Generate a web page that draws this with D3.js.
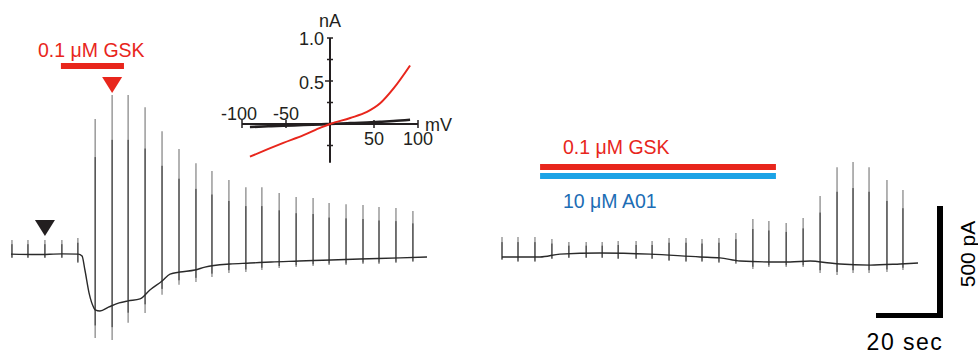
<!DOCTYPE html>
<html>
<head>
<meta charset="utf-8">
<script src="https://cdn.jsdelivr.net/npm/d3@7"></script>
<style>
  body { margin: 0; background: #fff; }
  svg text { font-family: Arial, "Liberation Sans", sans-serif; }
</style>
</head>
<body>
<div id="chart"></div>
<script>
// ---- data (time in s, current in pA, I-V in mV / nA) ----
const leftSpikeT   = [0.3, 5.3, 10.6, 15.9, 20.9, 26.3, 31.6, 36.6, 41.9, 47.2, 52.5, 57.8, 62.8,
                      68.1, 73.4, 78.4, 83.8, 89.1, 94.4, 99.4, 104.7, 110, 115, 120.3, 125.6];
const leftSpikeTop = [67, 67, 67, 67, 76, 607, 714, 714, 660, 553, 473, 410, 375,
                      335, 303, 303, 277, 259, 254, 232, 227, 223, 214, 210, 196];
const leftSpikeBot = [-13, -13, -13, -13, -36, -370, -379, -303, -259, -178, -133, -120, -98,
                      -80, -76, -67, -58, -54, -49, -45, -45, -40, -40, -36, -31];
const leftTraceT   = [0, 8, 16, 21, 22.2, 23.1, 24.4, 25.9, 26.3, 27.8, 30.6, 33.8, 36.6, 40.3,
                      43.4, 47.2, 49.7, 52.8, 57.5, 60.6, 68.4, 74.7, 81.3, 90, 100, 109, 121.6, 130];
const leftTraceI   = [4, 2, 5, 4, -4, -67, -170, -236, -245, -250, -232, -214, -205, -196,
                      -156, -116, -85, -76, -67, -54, -40, -36, -31, -27, -22, -18, -13, -9];

const rightSpikeT   = [0, 5, 10.3, 15.6, 20.9, 26.3, 31.3, 36.3, 41.9, 46.9, 52.2, 57.5, 62.5,
                       67.8, 73.1, 78.4, 83.4, 88.8, 94.1, 99.4, 104.7, 109.7, 114.7, 120.3, 125.3];
const rightSpikeTop = [80, 80, 80, 71, 58, 58, 58, 62, 62, 62, 76, 76, 71,
                       76, 98, 161, 152, 143, 165, 263, 392, 415, 392, 335, 290];
const rightSpikeBot = [-22, -31, -31, -18, -13, -13, -13, -18, -18, -18, -27, -31, -31,
                       -36, -40, -62, -54, -54, -54, -80, -89, -80, -80, -76, -67];
const rightTraceT   = [0, 11.9, 18.1, 30.6, 46.3, 61.9, 68.1, 74.4, 83.8, 90, 96.3, 102.5, 105.6, 115, 124.4, 130];
const rightTraceI   = [-9, -9, 4, 9, 4, -9, -13, -27, -31, -31, -27, -36, -40, -45, -40, -36];

const ivV     = [-91, -70, -53, -30, -10, 0, 23, 42, 57, 72, 91];
const ivRed   = [-0.38, -0.29, -0.22, -0.13, -0.04, 0, 0.07, 0.14, 0.24, 0.41, 0.68];
const ivBlack = [-0.035, -0.027, -0.02, -0.012, -0.004, 0, 0.01, 0.018, 0.026, 0.035, 0.05];
const ivXTicks = [-100, -50, 0, 50, 100];
const ivYTicks = [-0.25, 0.25, 0.5, 0.75, 1.0];

const RED = "#e8261c", BLUE_BAR = "#1ba3e6", BLUE_TXT = "#1c6db5";

const svg = d3.select("#chart").append("svg")
  .attr("width", 978).attr("height", 356);

const xL = d3.scaleLinear().domain([0, 130]).range([11, 427]);
const xR = d3.scaleLinear().domain([0, 130]).range([502, 918]);
const y  = d3.scaleLinear().domain([0, 500]).range([255, 143]);

function drawTrace(x, tArr, iArr, sT, sTop, sBot) {
  const g = svg.append("g");
  // light outer part of each voltage-step transient
  g.selectAll("line.spike")
    .data(sT)
    .enter().append("line")
      .attr("class", "spike")
      .attr("x1", d => x(d)).attr("x2", d => x(d))
      .attr("y1", (d, i) => y(sTop[i])).attr("y2", (d, i) => y(sBot[i]))
      .attr("stroke", "#8a8a8a").attr("stroke-width", 1.3);
  // darker core
  g.selectAll("line.core")
    .data(sT)
    .enter().append("line")
      .attr("class", "core")
      .attr("x1", d => x(d)).attr("x2", d => x(d))
      .attr("y1", (d, i) => y(sTop[i] * 0.72)).attr("y2", (d, i) => y(sBot[i] * 0.85))
      .attr("stroke", "#333").attr("stroke-width", 1);
  const line = d3.line().x(d => x(d[0])).y(d => y(d[1])).curve(d3.curveMonotoneX);
  g.append("path")
    .datum(tArr.map((t, i) => [t, iArr[i]]))
    .attr("d", line)
    .attr("fill", "none").attr("stroke", "#2a2a2a").attr("stroke-width", 1.4);
}
drawTrace(xL, leftTraceT, leftTraceI, leftSpikeT, leftSpikeTop, leftSpikeBot);
drawTrace(xR, rightTraceT, rightTraceI, rightSpikeT, rightSpikeTop, rightSpikeBot);

// triangles marking sweeps for I-V
function tri(cx, top, color) {
  svg.append("path")
    .attr("d", `M${cx - 10},${top} L${cx + 10},${top} L${cx},${top + 16} Z`)
    .attr("fill", color);
}
tri(xL(leftSpikeT[2]), 220, "#231f20");
tri(xL(leftSpikeT[6]), 77, RED);

// drug application bars
svg.append("rect").attr("x", xL(15.6)).attr("width", xL(35.3) - xL(15.6))
  .attr("y", 63).attr("height", 6).attr("fill", RED);
svg.append("text").attr("x", 38).attr("y", 57).attr("font-size", 19.5)
  .attr("fill", RED).text("0.1 μM GSK");

svg.append("rect").attr("x", xR(11.9)).attr("width", xR(85.6) - xR(11.9))
  .attr("y", 164).attr("height", 6).attr("fill", RED);
svg.append("rect").attr("x", xR(11.9)).attr("width", xR(85.6) - xR(11.9))
  .attr("y", 173).attr("height", 6).attr("fill", BLUE_BAR);
svg.append("text").attr("x", 563).attr("y", 154).attr("font-size", 19.5)
  .attr("fill", RED).text("0.1 μM GSK");
svg.append("text").attr("x", 563).attr("y", 208).attr("font-size", 19.5)
  .attr("fill", BLUE_TXT).text("10 μM A01");

// scale bars
const sbX = 940, sbY = 318;
svg.append("rect").attr("x", sbX - 3).attr("y", y(500) - (y(0) - sbY))
  .attr("width", 6).attr("height", y(0) - y(500)).attr("fill", "#000");
svg.append("rect").attr("x", sbX + 3 - (xR(20) - xR(0)) - 3).attr("y", sbY - 5)
  .attr("width", xR(20) - xR(0) + 3).attr("height", 5).attr("fill", "#000");
svg.append("text").attr("transform", "translate(975,254) rotate(-90)")
  .attr("text-anchor", "middle").attr("font-size", 21).text("500 pA");
svg.append("text").attr("x", 905).attr("y", 350).attr("text-anchor", "middle")
  .attr("font-size", 23).attr("letter-spacing", 1.5).text("20 sec");

// inset I-V
const ivx = d3.scaleLinear().domain([-100, 100]).range([242, 418]);
const ivy = d3.scaleLinear().domain([0, 1]).range([124, 38]);
const inset = svg.append("g");
inset.append("line").attr("x1", ivx(-100)).attr("x2", ivx(100))
  .attr("y1", ivy(0)).attr("y2", ivy(0)).attr("stroke", "#231f20").attr("stroke-width", 2);
inset.append("line").attr("x1", ivx(0)).attr("x2", ivx(0))
  .attr("y1", ivy(-0.45)).attr("y2", ivy(1)).attr("stroke", "#231f20").attr("stroke-width", 2);
inset.selectAll("line.xt").data(ivXTicks).enter().append("line")
  .attr("x1", d => ivx(d)).attr("x2", d => ivx(d))
  .attr("y1", ivy(0) - 4).attr("y2", ivy(0) + 4)
  .attr("stroke", "#231f20").attr("stroke-width", 1.5);
inset.selectAll("line.yt").data(ivYTicks).enter().append("line")
  .attr("x1", d => ivx(0) - (d === 0.5 ? 5 : 3)).attr("x2", d => ivx(0) + 3)
  .attr("y1", d => ivy(d)).attr("y2", d => ivy(d))
  .attr("stroke", "#231f20").attr("stroke-width", 1.5);

const ivLine = d3.line().x(d => ivx(d[0])).y(d => ivy(d[1])).curve(d3.curveMonotoneX);
inset.append("path").datum(ivV.map((v, i) => [v, ivBlack[i]])).attr("d", ivLine)
  .attr("fill", "none").attr("stroke", "#231f20").attr("stroke-width", 2.6);
inset.append("path").datum(ivV.map((v, i) => [v, ivRed[i]])).attr("d", ivLine)
  .attr("fill", "none").attr("stroke", RED).attr("stroke-width", 2);

const lab = (x, yy, txt, anchor) => inset.append("text").attr("x", x).attr("y", yy)
  .attr("font-size", 18).attr("text-anchor", anchor || "middle").attr("fill", "#231f20").text(txt);
lab(ivx(-100) - 3, 120, "-100");
lab(ivx(-50), 120, "-50");
lab(ivx(50), 145, "50");
lab(ivx(100), 145, "100");
lab(ivx(0) - 6, 45, "1.0", "end");
lab(ivx(0) - 6, 89, "0.5", "end");
lab(ivx(0), 27, "nA");
lab(ivx(100) + 7, 131, "mV", "start");
</script>
</body>
</html>
